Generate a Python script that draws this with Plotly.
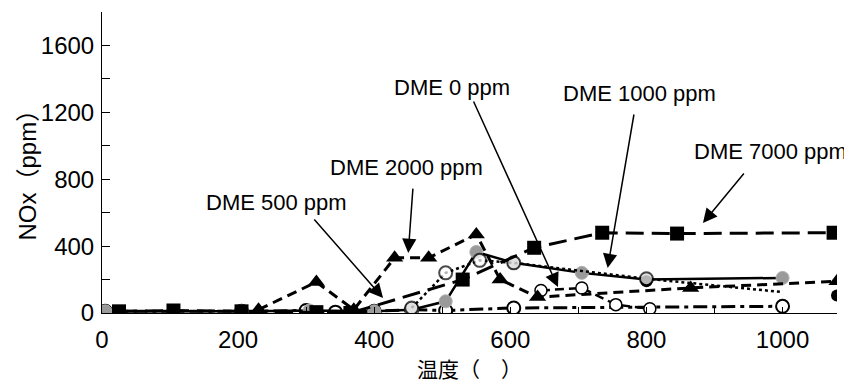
import plotly.graph_objects as go

# ---- data ----
x_7000 = [25, 105, 205, 315, 365, 530, 635, 735, 845, 1075]
y_7000 = [10, 15, 10, 5, 0, 200, 390, 480, 475, 480]

x_2000 = [230, 315, 370, 430, 480, 550, 585, 640, 865, 1080]
y_2000 = [20, 185, 20, 330, 330, 470, 200, 95, 150, 190]

x_1000 = [5, 205, 305, 400, 455, 505, 550, 605, 705, 800, 1000]
y_1000 = [10, 10, 15, 10, 20, 70, 365, 300, 240, 200, 210]

x_500 = [455, 505, 555, 605, 800, 1000]
y_500 = [30, 240, 315, 300, 205, 125]

x_0 = [645, 705, 755, 805]
y_0 = [135, 150, 50, 25]

x_base = [5, 205, 300, 343, 400, 455, 505, 605, 1000]
y_base = [10, 10, 15, 5, 10, 20, 15, 30, 40]

x_black = [800, 1080]
y_black = [190, 105]

x_ticks = [0, 200, 400, 600, 800, 1000]
y_ticks = [0, 400, 800, 1200, 1600]

FONT = "Liberation Sans, Arial, Noto Sans CJK JP, sans-serif"

fig = go.Figure()

fig.add_trace(go.Scatter(
    x=x_base, y=y_base, mode="lines+markers",
    line=dict(color="black", width=3, dash="14px,5px,4px,5px"),
    marker=dict(symbol="circle", size=13, color="white", line=dict(color="black", width=2)),
    showlegend=False))

fig.add_trace(go.Scatter(
    x=x_1000, y=y_1000, mode="lines+markers",
    line=dict(color="black", width=2.5),
    marker=dict(symbol="circle", size=13, color="#9a9a9a", line=dict(color="#b0b0b0", width=1)),
    showlegend=False))

fig.add_trace(go.Scatter(
    x=x_black, y=y_black, mode="markers",
    marker=dict(symbol="circle", size=12, color="black"),
    showlegend=False))

fig.add_trace(go.Scatter(
    x=x_500, y=y_500, mode="lines+markers",
    line=dict(color="black", width=2.5, dash="dot"),
    marker=dict(symbol="circle", size=[13, 13, 13, 13, 13, 0], color="white",
                line=dict(color="black", width=2)),
    showlegend=False))

fig.add_trace(go.Scatter(
    x=x_0, y=y_0, mode="lines+markers",
    line=dict(color="black", width=2.5, dash="9px,5px"),
    marker=dict(symbol="circle", size=12, color="white", line=dict(color="black", width=1.5)),
    showlegend=False))

fig.add_trace(go.Scatter(
    x=x_2000, y=y_2000, mode="lines+markers",
    line=dict(color="black", width=3, dash="10px,6px"),
    marker=dict(symbol="triangle-up", size=15, color="black"),
    showlegend=False))

fig.add_trace(go.Scatter(
    x=x_7000, y=y_7000, mode="lines+markers",
    line=dict(color="black", width=3, dash="18px,8px"),
    marker=dict(symbol="square", size=14, color="black"),
    showlegend=False))

labels = [
    ("DME 0 ppm", 514, 1351, 545, 1274, 670, 155),
    ("DME 500 ppm", 256, 658, 310, 568, 413, 90),
    ("DME 2000 ppm", 448, 873, 457, 753, 450, 359),
    ("DME 1000 ppm", 790, 1310, 782, 1196, 743, 269),
    ("DME 7000 ppm", 983, 963, 945, 843, 883, 538),
]
anns = []
for txt, tx, ty, ax, ay, hx, hy in labels:
    anns.append(dict(x=tx, y=ty, xref="x", yref="y", text=txt, showarrow=False,
                     font=dict(family=FONT, size=22, color="black"),
                     xanchor="center", yanchor="middle"))
    anns.append(dict(x=hx, y=hy, xref="x", yref="y", ax=ax, ay=ay, axref="x", ayref="y",
                     text="", showarrow=True, arrowhead=2, arrowsize=1.9, arrowwidth=1.5,
                     arrowcolor="black", standoff=0, startstandoff=0))

anns.append(dict(x=-0.1007, y=0.48, xref="paper", yref="paper", text="NOx（ppm）",
                 textangle=-90, showarrow=False, xanchor="center", yanchor="middle",
                 font=dict(family=FONT, size=24, color="black")))
anns.append(dict(x=0.5, y=-0.189, xref="paper", yref="paper", text="温度（　）",
                 showarrow=False, xanchor="center", yanchor="middle",
                 font=dict(family=FONT, size=21, color="black")))

# the page body adds an 8px offset, so the figure is 8px smaller and shifted
fig.update_layout(
    width=844, height=378,
    margin=dict(l=94, r=15, t=4, b=73, autoexpand=False),
    paper_bgcolor="white", plot_bgcolor="white",
    font=dict(family=FONT, size=24, color="black"),
    annotations=anns,
    xaxis=dict(range=[0, 1080], tickvals=x_ticks, ticktext=[str(v) for v in x_ticks],
               ticks="inside", ticklen=6, tickcolor="black", tickwidth=1,
               minor=dict(dtick=100, tick0=0, ticks="inside", ticklen=6, tickcolor="black"),
               showline=True, linecolor="black", linewidth=1, showgrid=False, zeroline=False,
               automargin=False, ticklabelstandoff=5, tickfont=dict(size=24)),
    yaxis=dict(range=[0, 1800], tickvals=y_ticks, ticktext=[str(v) for v in y_ticks],
               ticks="inside", ticklen=8, tickcolor="black", tickwidth=1,
               minor=dict(dtick=200, tick0=0, ticks="inside", ticklen=8, tickcolor="black"),
               showline=True, linecolor="black", linewidth=1, showgrid=False, zeroline=False,
               automargin=False, ticklabelstandoff=2, tickfont=dict(size=24)),
)

fig.write_html("out.html")
